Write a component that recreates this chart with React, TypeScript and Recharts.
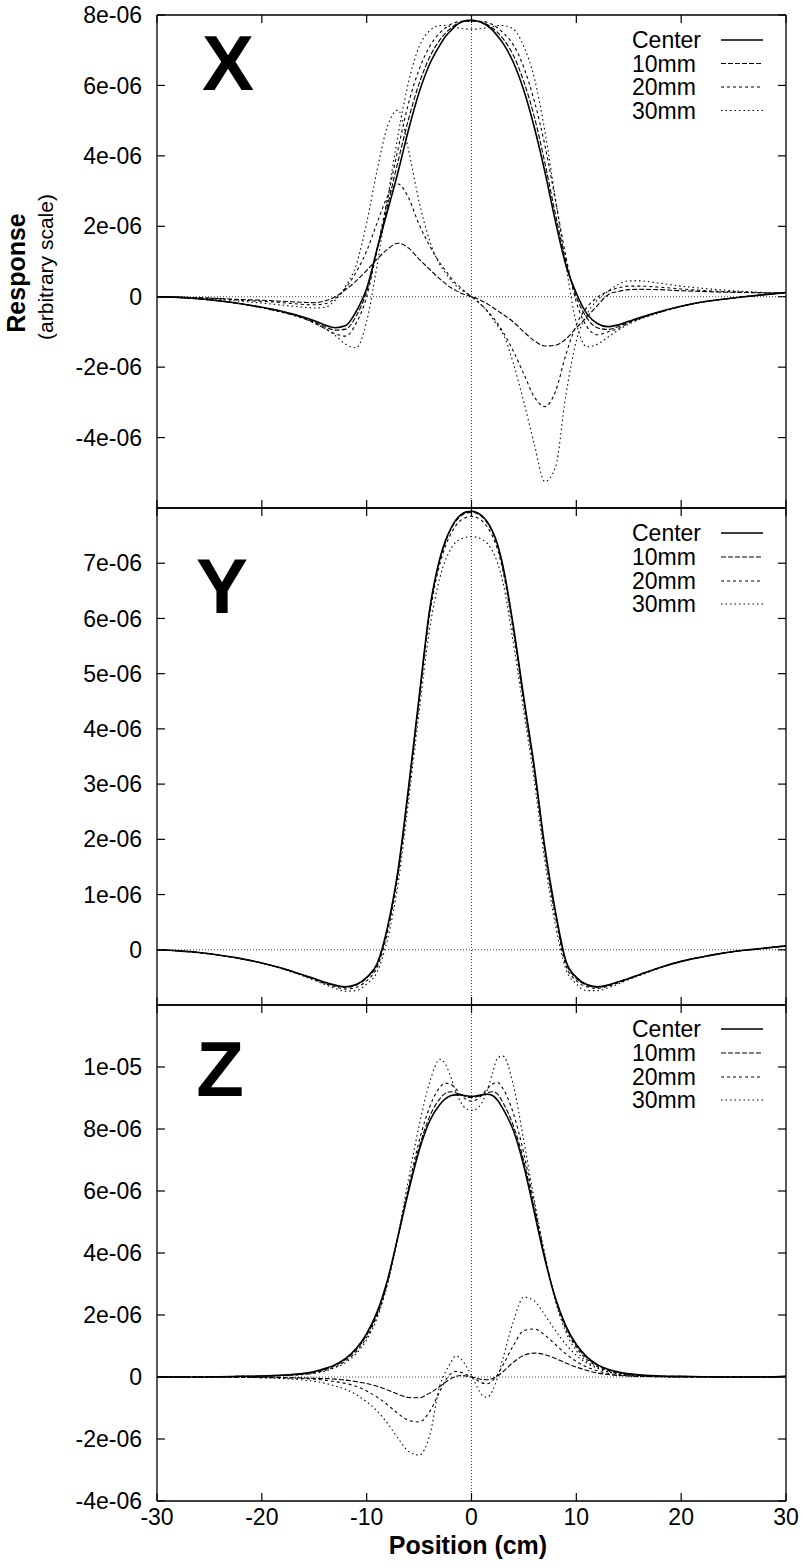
import React from 'react';
import { LineChart, Line, XAxis, YAxis, ReferenceLine } from 'recharts';

// Position (cm) sample grid shared by every series
const positions = [
  -30, -28, -26, -24, -22, -20, -18,
  -16, -15, -14, -13, -12, -11, -10, -9, -8, -7, -6, -5, -4,
  -3, -2.5, -2, -1.5, -1, -0.5, 0, 0.5, 1, 1.5, 2, 2.5, 3,
  4, 5, 6, 7, 8, 9, 10, 11, 12, 13, 14, 15, 16,
  18, 20, 22, 24, 26, 28, 30,
];

// Response values, in units of 1e-06 (arbitrary scale)
// ---- X panel ----
const xCenter = [
  0, -0.02, -0.06, -0.12, -0.2, -0.3, -0.42,
  -0.58, -0.68, -0.8, -0.88, -0.82, -0.42, 0.23, 1.36, 2.45, 3.55, 4.75, 5.8, 6.6,
  7.15, 7.38, 7.55, 7.7, 7.79, 7.84, 7.85, 7.83, 7.78, 7.7, 7.57, 7.4, 7.2,
  6.65, 5.85, 4.8, 3.55, 2.15, 0.9, 0.1, -0.48, -0.76, -0.85, -0.8, -0.7, -0.6,
  -0.42, -0.27, -0.15, -0.07, 0.0, 0.06, 0.12,
];
const x10sym = [
  0, -0.02, -0.06, -0.12, -0.2, -0.3, -0.43,
  -0.6, -0.72, -0.85, -0.95, -0.92, -0.55, 0.15, 1.35, 2.6, 3.85, 5.05, 6.05, 6.8,
  7.3, 7.48, 7.62, 7.73, 7.8, 7.84, 7.85, 7.84, 7.8, 7.73, 7.63, 7.5, 7.33,
  6.85, 6.1, 5.1, 3.8, 2.35, 1.0, 0.0, -0.6, -0.88, -0.93, -0.85, -0.72, -0.62,
  -0.43, -0.27, -0.15, -0.07, 0.0, 0.06, 0.12,
];
const x20sym = [
  0, -0.02, -0.06, -0.12, -0.2, -0.31, -0.45,
  -0.62, -0.75, -0.9, -1.05, -1.12, -0.75, 0.0, 1.35, 2.8, 4.2, 5.5, 6.45, 7.1,
  7.5, 7.63, 7.73, 7.79, 7.82, 7.82, 7.82, 7.82, 7.82, 7.79, 7.73, 7.63, 7.5,
  7.15, 6.5, 5.55, 4.3, 2.75, 1.15, -0.15, -0.85, -1.08, -1.0, -0.9, -0.75, -0.63,
  -0.43, -0.28, -0.15, -0.07, 0.0, 0.06, 0.12,
];
const x30sym = [
  0, -0.02, -0.06, -0.12, -0.21, -0.32, -0.45,
  -0.62, -0.75, -0.9, -1.1, -1.35, -1.45, -0.7, 0.9, 2.8, 4.6, 6.1, 7.1, 7.55,
  7.7, 7.7, 7.67, 7.64, 7.62, 7.6, 7.6, 7.6, 7.62, 7.64, 7.67, 7.7, 7.7,
  7.6, 7.1, 6.2, 4.7, 2.8, 0.9, -0.75, -1.42, -1.35, -1.15, -0.95, -0.78, -0.65,
  -0.45, -0.28, -0.15, -0.07, 0.0, 0.06, 0.12,
];
const x10anti = [
  0, -0.01, -0.03, -0.05, -0.08, -0.1, -0.13,
  -0.16, -0.17, -0.12, 0.0, 0.2, 0.45, 0.75, 1.07, 1.35, 1.52, 1.38, 1.07, 0.78,
  0.5, 0.38, 0.26, 0.18, 0.1, 0.05, 0.0, -0.05, -0.12, -0.2, -0.3, -0.4, -0.5,
  -0.72, -1.0, -1.25, -1.4, -1.38, -1.2, -0.88, -0.58, -0.25, 0.05, 0.15, 0.2, 0.21,
  0.2, 0.17, 0.15, 0.13, 0.12, 0.11, 0.1,
];
const x20anti = [
  0, -0.01, -0.03, -0.06, -0.1, -0.13, -0.17,
  -0.22, -0.23, -0.2, -0.05, 0.25, 0.7, 1.3, 2.1, 2.85, 3.2, 2.8, 2.05, 1.45,
  0.95, 0.75, 0.55, 0.38, 0.25, 0.12, 0.0, -0.12, -0.25, -0.4, -0.57, -0.77, -1.0,
  -1.55, -2.2, -2.85, -3.12, -2.7, -1.65, -0.8, -0.3, -0.02, 0.15, 0.25, 0.3, 0.3,
  0.27, 0.22, 0.18, 0.15, 0.13, 0.11, 0.1,
];
const x30anti = [
  0, -0.02, -0.04, -0.08, -0.13, -0.18, -0.24,
  -0.3, -0.32, -0.3, -0.1, 0.3, 0.9, 2.1, 3.6, 4.85, 5.3, 4.15, 2.7, 1.6,
  0.9, 0.68, 0.48, 0.32, 0.2, 0.1, 0.0, -0.1, -0.25, -0.42, -0.62, -0.83, -1.05,
  -1.9, -3.0, -4.2, -5.25, -4.85, -2.8, -1.25, -0.5, -0.1, 0.15, 0.35, 0.45, 0.45,
  0.38, 0.3, 0.24, 0.19, 0.15, 0.12, 0.1,
];

// ---- Y panel ----
const yCenter = [
  0, -0.02, -0.05, -0.1, -0.16, -0.24, -0.34,
  -0.46, -0.52, -0.59, -0.64, -0.67, -0.63, -0.5, -0.25, 0.42, 1.45, 2.95, 4.57, 6.15,
  7.1, 7.4, 7.62, 7.78, 7.88, 7.93, 7.94, 7.92, 7.86, 7.75, 7.58, 7.33, 6.95,
  5.85, 4.55, 3.3, 1.85, 0.7, -0.2, -0.5, -0.63, -0.67, -0.64, -0.58, -0.52, -0.45,
  -0.32, -0.21, -0.13, -0.06, -0.01, 0.03, 0.07,
];
const y10 = [
  0, -0.02, -0.05, -0.1, -0.16, -0.24, -0.34,
  -0.46, -0.53, -0.6, -0.65, -0.68, -0.64, -0.51, -0.27, 0.4, 1.42, 2.92, 4.55, 6.12,
  7.07, 7.37, 7.6, 7.76, 7.86, 7.91, 7.92, 7.9, 7.84, 7.73, 7.56, 7.3, 6.92,
  5.82, 4.52, 3.27, 1.82, 0.67, -0.22, -0.52, -0.64, -0.68, -0.65, -0.58, -0.52, -0.45,
  -0.32, -0.21, -0.13, -0.06, -0.01, 0.03, 0.07,
];
const y20 = [
  0, -0.02, -0.05, -0.1, -0.16, -0.24, -0.34,
  -0.47, -0.54, -0.61, -0.67, -0.71, -0.68, -0.56, -0.32, 0.33, 1.36, 2.86, 4.48, 6.05,
  7.0, 7.3, 7.52, 7.68, 7.78, 7.83, 7.85, 7.83, 7.77, 7.66, 7.49, 7.24, 6.86,
  5.75, 4.45, 3.2, 1.75, 0.6, -0.28, -0.56, -0.67, -0.7, -0.66, -0.6, -0.53, -0.46,
  -0.32, -0.21, -0.13, -0.06, -0.01, 0.03, 0.07,
];
const y30 = [
  0, -0.02, -0.05, -0.1, -0.16, -0.24, -0.35,
  -0.48, -0.55, -0.63, -0.7, -0.75, -0.74, -0.62, -0.4, 0.2, 1.2, 2.7, 4.3, 5.8,
  6.75, 7.05, 7.25, 7.38, 7.44, 7.47, 7.48, 7.47, 7.43, 7.36, 7.22, 7.0, 6.65,
  5.55, 4.3, 3.05, 1.6, 0.45, -0.35, -0.62, -0.74, -0.74, -0.69, -0.62, -0.54, -0.47,
  -0.33, -0.21, -0.13, -0.06, -0.01, 0.03, 0.07,
];

// ---- Z panel ----
const zCenter = [
  0, 0, 0, 0.01, 0.02, 0.03, 0.06,
  0.12, 0.18, 0.27, 0.4, 0.6, 0.92, 1.4, 2.1, 3.15, 4.55, 6.0, 7.3, 8.25,
  8.8, 8.97, 9.07, 9.1, 9.1, 9.07, 9.05, 9.07, 9.1, 9.12, 9.08, 8.92, 8.65,
  7.95, 6.8, 5.3, 3.8, 2.55, 1.65, 1.05, 0.65, 0.4, 0.25, 0.16, 0.1, 0.07,
  0.03, 0.02, 0.01, 0, 0, 0, 0.02,
];
const z10sym = [
  0, 0, 0, 0.01, 0.02, 0.03, 0.05,
  0.1, 0.15, 0.24, 0.37, 0.57, 0.88, 1.35, 2.05, 3.1, 4.55, 6.05, 7.4, 8.4,
  8.98, 9.15, 9.2, 9.17, 9.1, 9.04, 9.02, 9.04, 9.1, 9.17, 9.2, 9.12, 8.85,
  8.1, 6.95, 5.4, 3.85, 2.55, 1.62, 1.02, 0.62, 0.38, 0.23, 0.15, 0.1, 0.06,
  0.03, 0.02, 0.01, 0, 0, 0, 0.02,
];
const z20sym = [
  0, 0, 0, 0.01, 0.02, 0.03, 0.05,
  0.09, 0.13, 0.21, 0.33, 0.52, 0.82, 1.28, 1.98, 3.05, 4.55, 6.15, 7.6, 8.7,
  9.35, 9.48, 9.45, 9.3, 9.1, 8.95, 8.9, 8.95, 9.1, 9.3, 9.45, 9.5, 9.3,
  8.5, 7.2, 5.55, 3.9, 2.5, 1.55, 0.95, 0.57, 0.34, 0.2, 0.13, 0.08, 0.05,
  0.02, 0.01, 0.01, 0, 0, 0, 0.02,
];
const z30sym = [
  0, 0, 0, 0.01, 0.02, 0.03, 0.04,
  0.08, 0.12, 0.19, 0.3, 0.47, 0.75, 1.2, 1.9, 3.0, 4.6, 6.4, 8.1, 9.5,
  10.25, 10.1, 9.7, 9.2, 8.85, 8.65, 8.6, 8.65, 8.85, 9.25, 9.8, 10.3, 10.35,
  9.4, 7.6, 5.7, 3.95, 2.45, 1.45, 0.85, 0.5, 0.3, 0.17, 0.1, 0.06, 0.04,
  0.02, 0.01, 0.01, 0, 0, 0, 0.02,
];
const z10anti = [
  0, 0, 0, 0, -0.01, -0.01, -0.02,
  -0.03, -0.04, -0.05, -0.07, -0.1, -0.15, -0.21, -0.3, -0.42, -0.56, -0.66, -0.67, -0.52,
  -0.3, -0.17, -0.06, 0.02, 0.05, 0.03, 0.0, -0.04, -0.08, -0.09, -0.05, 0.04, 0.17,
  0.48, 0.7, 0.77, 0.72, 0.6, 0.45, 0.32, 0.21, 0.13, 0.08, 0.05, 0.03, 0.02,
  0.01, 0, 0, 0, 0, 0, 0.02,
];
const z20anti = [
  0, 0, 0, -0.01, -0.01, -0.02, -0.03,
  -0.05, -0.07, -0.1, -0.15, -0.21, -0.3, -0.45, -0.65, -0.9, -1.18, -1.4, -1.45, -1.12,
  -0.45, -0.12, 0.1, 0.18, 0.15, 0.08, 0.0, -0.1, -0.19, -0.22, -0.12, 0.08, 0.38,
  1.02, 1.5, 1.55, 1.35, 1.05, 0.75, 0.5, 0.32, 0.2, 0.12, 0.07, 0.04, 0.03,
  0.01, 0, 0, 0, 0, 0, 0.02,
];
const z30anti = [
  0, 0, 0, -0.01, -0.01, -0.02, -0.05,
  -0.1, -0.14, -0.2, -0.29, -0.4, -0.57, -0.8, -1.1, -1.5, -1.98, -2.4, -2.52, -1.9,
  -0.25, 0.15, 0.45, 0.68, 0.58, 0.35, 0.05, -0.3, -0.58, -0.65, -0.45, 0.0, 0.6,
  1.8, 2.58, 2.45, 2.0, 1.5, 1.05, 0.7, 0.45, 0.28, 0.17, 0.1, 0.06, 0.04,
  0.01, 0, 0, 0, 0, 0, 0.02,
];

// Tick values
const xTicks = [-30, -20, -10, 0, 10, 20, 30];
const xPanelTicks = [-4, -2, 0, 2, 4, 6, 8];
const yPanelTicks = [0, 1, 2, 3, 4, 5, 6, 7];
const zPanelTicks = [-4, -2, 0, 2, 4, 6, 8, 10];
const legendNames = ['Center', '10mm', '20mm', '30mm'];

const FONT = '"Liberation Sans", Arial, Helvetica, sans-serif';
const DASH: Record<string, string | undefined> = {
  Center: undefined,
  '10mm': '5 2',
  '20mm': '3 3',
  '30mm': '1.5 3',
};

function sci(v: number): string {
  if (v === 0) return '0';
  const s = (v * 1e-6).toExponential(0);
  return s.replace(/e([+-])(\d)$/, (_m: string, sg: string, d: string) => 'e' + sg + '0' + d);
}
const blank = () => '';

type Series = { key: string; values: number[]; kind: string };

// plot frame (page px): left 157, right 786
const PANELS = [
  {
    letter: 'X', top: 0, height: 520, plotTop: 15, plotBottom: 508, domain: [-6, 8], yTicks: xPanelTicks,
    series: [
      { key: 'x30s', values: x30sym, kind: '30mm' },
      { key: 'x30a', values: x30anti, kind: '30mm' },
      { key: 'x20s', values: x20sym, kind: '20mm' },
      { key: 'x20a', values: x20anti, kind: '20mm' },
      { key: 'x10s', values: x10sym, kind: '10mm' },
      { key: 'x10a', values: x10anti, kind: '10mm' },
      { key: 'xc', values: xCenter, kind: 'Center' },
    ] as Series[],
    legendY: [40, 63.5, 87, 110.5], letterX: 228, letterBase: 90, xLabels: false,
  },
  {
    letter: 'Y', top: 500, height: 520, plotTop: 508, plotBottom: 1005, domain: [-1, 8], yTicks: yPanelTicks,
    series: [
      { key: 'y30', values: y30, kind: '30mm' },
      { key: 'y20', values: y20, kind: '20mm' },
      { key: 'y10', values: y10, kind: '10mm' },
      { key: 'yc', values: yCenter, kind: 'Center' },
    ] as Series[],
    legendY: [533, 557, 581, 604], letterX: 222, letterBase: 613, xLabels: false,
  },
  {
    letter: 'Z', top: 997, height: 571, plotTop: 1005, plotBottom: 1501, domain: [-4, 12], yTicks: zPanelTicks,
    series: [
      { key: 'z30s', values: z30sym, kind: '30mm' },
      { key: 'z30a', values: z30anti, kind: '30mm' },
      { key: 'z20s', values: z20sym, kind: '20mm' },
      { key: 'z20a', values: z20anti, kind: '20mm' },
      { key: 'z10s', values: z10sym, kind: '10mm' },
      { key: 'z10a', values: z10anti, kind: '10mm' },
      { key: 'zc', values: zCenter, kind: 'Center' },
    ] as Series[],
    legendY: [1029, 1053, 1077, 1100], letterX: 220, letterBase: 1096, xLabels: true,
  },
];

const axisLine = { stroke: '#000', strokeWidth: 1.3 };
const tickLine = { stroke: '#000', strokeWidth: 1.2 };
const tickText = { fontSize: 23, fill: '#000', fontFamily: FONT };
const AX = 2; // thickness reserved by each axis (px)

function Panel({ cfg }: { cfg: (typeof PANELS)[number] }) {
  const data = positions.map((x, i) => {
    const row: Record<string, number> = { x };
    cfg.series.forEach((s) => {
      row[s.key] = s.values[i];
    });
    return row;
  });
  const mt = cfg.plotTop - cfg.top - AX;
  const mb = cfg.top + cfg.height - cfg.plotBottom - AX;
  return (
    <div style={{ position: 'absolute', left: 0, top: cfg.top }}>
      <LineChart
        width={803}
        height={cfg.height}
        data={data}
        margin={{ top: mt, right: 17 - AX, bottom: mb, left: 0 }}
      >
        <XAxis
          xAxisId="b" type="number" dataKey="x" domain={[-30, 30]} ticks={xTicks}
          interval={0} height={AX} orientation="bottom" allowDataOverflow
          tickSize={-8} tickMargin={16} axisLine={axisLine} tickLine={tickLine}
          tick={tickText} tickFormatter={cfg.xLabels ? undefined : blank}
        />
        <XAxis
          xAxisId="t" type="number" dataKey="x" domain={[-30, 30]} ticks={xTicks}
          interval={0} height={AX} orientation="top" allowDataOverflow
          tickSize={-8} axisLine={axisLine} tickLine={tickLine} tick={tickText} tickFormatter={blank}
        />
        <YAxis
          yAxisId="l" type="number" domain={cfg.domain} ticks={cfg.yTicks} interval={0}
          width={157} orientation="left" allowDataOverflow tickSize={-8} tickMargin={23}
          axisLine={axisLine} tickLine={tickLine} tick={tickText} tickFormatter={sci}
        />
        <YAxis
          yAxisId="r" type="number" domain={cfg.domain} ticks={cfg.yTicks} interval={0}
          width={AX} orientation="right" allowDataOverflow tickSize={-8}
          axisLine={axisLine} tickLine={tickLine} tick={tickText} tickFormatter={blank}
        />
        <ReferenceLine xAxisId="b" yAxisId="l" y={0} stroke="#444" strokeWidth={1} strokeDasharray="1 2" />
        <ReferenceLine xAxisId="b" yAxisId="l" x={0} stroke="#444" strokeWidth={1} strokeDasharray="1 2" />
        {cfg.series.map((s) => (
          <Line
            key={s.key}
            xAxisId="b"
            yAxisId="l"
            dataKey={s.key}
            type="monotone"
            stroke="#000"
            strokeWidth={s.kind === 'Center' ? 1.6 : 1.1}
            strokeDasharray={DASH[s.kind]}
            dot={false}
            activeDot={false}
            isAnimationActive={false}
          />
        ))}
      </LineChart>
    </div>
  );
}

export default function App() {
  return (
    <div style={{ position: 'absolute', left: 0, top: 0, width: 803, height: 1568, background: '#fff' }}>
      {PANELS.map((p) => (
        <Panel key={p.letter} cfg={p} />
      ))}
      <svg
        width={803}
        height={1568}
        style={{ position: 'absolute', left: 0, top: 0, pointerEvents: 'none' }}
        fontFamily={FONT}
      >
        {PANELS.map((p) => (
          <g key={p.letter}>
            <text x={p.letterX} y={p.letterBase} fontSize={78} fontWeight="bold" textAnchor="middle" fill="#000">
              {p.letter}
            </text>
            {legendNames.map((n, i) => (
              <g key={n}>
                <text x={632} y={p.legendY[i] + 8.2} fontSize={23} fill="#000">
                  {n}
                </text>
                <line
                  x1={721} x2={763} y1={p.legendY[i]} y2={p.legendY[i]}
                  stroke="#000" strokeWidth={n === 'Center' ? 1.6 : 1.1} strokeDasharray={DASH[n]}
                />
              </g>
            ))}
          </g>
        ))}
        <text transform="translate(25,273) rotate(-90)" fontSize={25} fontWeight="bold" textAnchor="middle" fill="#000">
          Response
        </text>
        <text transform="translate(53,267) rotate(-90)" fontSize={21} textAnchor="middle" fill="#000">
          (arbitrary scale)
        </text>
        <text x={468} y={1554} fontSize={25} fontWeight="bold" textAnchor="middle" fill="#000">
          Position (cm)
        </text>
      </svg>
    </div>
  );
}
